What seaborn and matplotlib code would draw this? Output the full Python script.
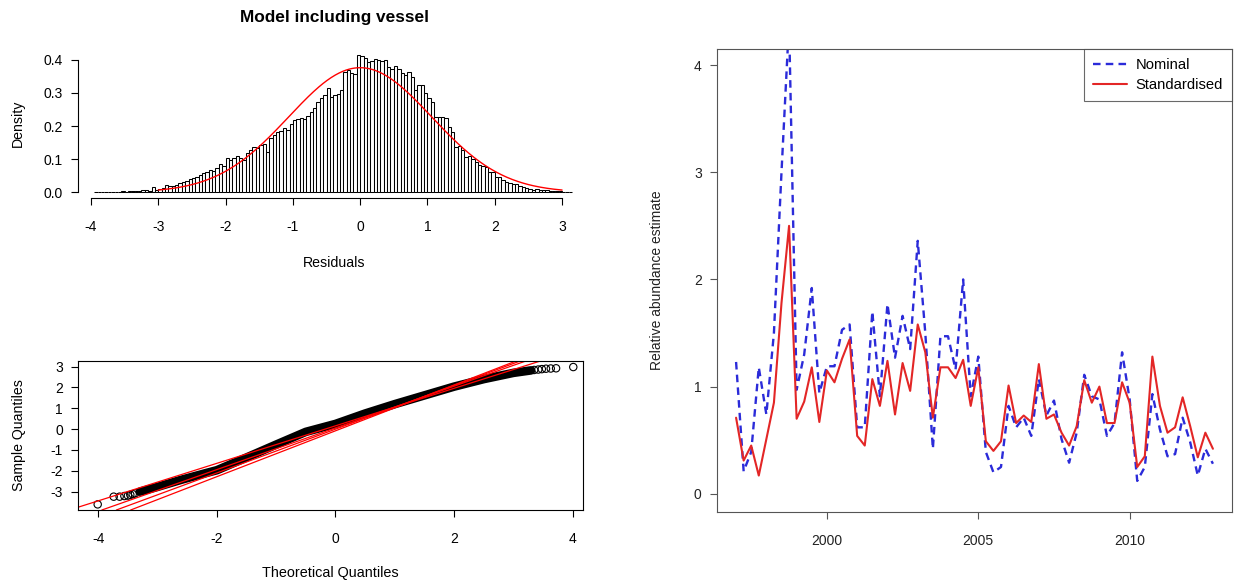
import numpy as np
import pandas as pd
import matplotlib
matplotlib.use("Agg")
import matplotlib.pyplot as plt
import seaborn as sns

# ----------------- Data -----------------
# residual histogram: density of each 0.05 wide bin, first bin starts at -3.95
hist_start = -3.95
hist_width = 0.05
hist_density = [
    # -3.95 .. -3.05
    0.001, 0.000, 0.001, 0.000, 0.001, 0.001, 0.000, 0.002, 0.003, 0.002,
    0.003, 0.004, 0.005, 0.004, 0.006, 0.008, 0.005, 0.016, 0.008,
    # -3.0 .. -2.05
    0.010, 0.014, 0.022, 0.018, 0.020, 0.021, 0.028, 0.032, 0.035, 0.039,
    0.042, 0.045, 0.052, 0.057, 0.062, 0.067, 0.063, 0.072, 0.085, 0.080,
    # -2.0 .. -1.05
    0.105, 0.099, 0.104, 0.110, 0.103, 0.099, 0.118, 0.128, 0.136, 0.135,
    0.143, 0.146, 0.122, 0.163, 0.172, 0.183, 0.186, 0.193, 0.188, 0.205,
    # -1.0 .. -0.05
    0.218, 0.222, 0.223, 0.220, 0.230, 0.243, 0.254, 0.274, 0.285, 0.294,
    0.314, 0.289, 0.293, 0.296, 0.309, 0.364, 0.369, 0.359, 0.358, 0.415,
    # 0.0 .. 0.95
    0.412, 0.405, 0.395, 0.398, 0.402, 0.400, 0.398, 0.400, 0.379, 0.371,
    0.381, 0.372, 0.359, 0.354, 0.362, 0.349, 0.309, 0.324, 0.324, 0.300,
    # 1.0 .. 1.95
    0.284, 0.274, 0.226, 0.228, 0.226, 0.223, 0.198, 0.183, 0.138, 0.140,
    0.128, 0.108, 0.110, 0.102, 0.092, 0.082, 0.080, 0.077, 0.062, 0.060,
    # 2.0 .. 2.95
    0.047, 0.045, 0.037, 0.032, 0.029, 0.025, 0.025, 0.019, 0.015, 0.012,
    0.009, 0.007, 0.009, 0.008, 0.006, 0.007, 0.004, 0.005, 0.003, 0.004,
    # 3.0 .. 3.1
    0.002, 0.001, 0.001,
]
norm_mean = 0.0
norm_sd = 1.06
norm_range = (-3.0, 3.0)

# QQ plot: dense body of the point cloud, isolated tail points, reference lines
qq_body_theo = [-3.3, -3.0, -2.6, -2.2, -2.0, -1.5, -1.0, -0.5, 0.0, 0.5,
                1.0, 1.5, 2.0, 2.5, 3.0, 3.3]
qq_body_sample = [-3.0, -2.77, -2.43, -2.12, -1.97, -1.36, -0.74, -0.13, 0.25, 0.75,
                  1.20, 1.62, 2.04, 2.40, 2.70, 2.82]
qq_tail_theo = [-4.01, -3.74, -3.64, -3.56, -3.50, -3.46, -3.42, -3.38,
                3.35, 3.42, 3.48, 3.55, 3.63, 3.72, 4.01]
qq_tail_sample = [-3.61, -3.24, -3.24, -3.21, -3.19, -3.15, -3.12, -3.08,
                  2.84, 2.86, 2.88, 2.90, 2.91, 2.92, 2.98]
qq_intercepts = [0.16, 0.06, 0.0, -0.08]
qq_slopes = [0.90, 1.00, 1.05, 1.10]

# abundance index, quarterly 1997 Q1 .. 2012 Q4
years = list(range(1997, 2013))
quarter_offsets = [0.0, 0.25, 0.5, 0.75]
nominal = [
    1.23, 0.21, 0.39, 1.18, 0.74, 1.50, 3.00, 4.40, 0.97, 1.30,
    1.92, 0.94, 1.19, 1.19, 1.53, 1.58, 0.62, 0.62, 1.70, 0.91,
    1.77, 1.27, 1.66, 1.35, 2.36, 1.50, 0.42, 1.47, 1.47, 1.16,
    2.00, 0.91, 1.28, 0.39, 0.20, 0.25, 0.82, 0.62, 0.71, 0.54,
    1.07, 0.73, 0.87, 0.51, 0.29, 0.57, 1.11, 0.91, 0.88, 0.54,
    0.66, 1.32, 0.88, 0.12, 0.25, 0.93, 0.60, 0.35, 0.37, 0.71,
    0.48, 0.17, 0.42, 0.28,
]
standardised = [
    0.71, 0.31, 0.45, 0.17, 0.51, 0.85, 1.78, 2.50, 0.70, 0.86,
    1.18, 0.67, 1.15, 1.04, 1.26, 1.44, 0.54, 0.45, 1.07, 0.82,
    1.24, 0.74, 1.22, 0.96, 1.58, 1.32, 0.71, 1.18, 1.18, 1.08,
    1.25, 0.82, 1.18, 0.49, 0.40, 0.49, 1.01, 0.66, 0.73, 0.67,
    1.21, 0.70, 0.74, 0.57, 0.45, 0.63, 1.06, 0.85, 1.00, 0.66,
    0.66, 1.04, 0.85, 0.25, 0.35, 1.28, 0.82, 0.57, 0.62, 0.90,
    0.63, 0.34, 0.57, 0.42,
]

# ----------------- Styling -----------------
sns.set_theme(style="ticks", rc={
    "axes.edgecolor": "black",
    "axes.linewidth": 0.8,
    "xtick.color": "black",
    "ytick.color": "black",
    "text.color": "black",
    "axes.labelcolor": "black",
    "xtick.major.size": 5,
    "ytick.major.size": 5,
    "xtick.major.width": 0.8,
    "ytick.major.width": 0.8,
})
plt.rcParams["font.family"] = ["Liberation Sans", "DejaVu Sans"]
plt.rcParams["axes.unicode_minus"] = False

W, H = 1239, 588
fig = plt.figure(figsize=(W / 100, H / 100), dpi=100)


def px_axes(left, top, right, bottom):
    return fig.add_axes([left / W, 1 - bottom / H, (right - left) / W, (bottom - top) / H])


# ----------------- Histogram of residuals -----------------
ax1 = px_axes(78, 49.4, 591, 197.8)
n_bins = len(hist_density)
edges = np.round(hist_start + hist_width * np.arange(n_bins + 1), 2)
mids = (edges[:-1] + edges[1:]) / 2
hist_df = pd.DataFrame({"Residuals": mids, "density": hist_density})
sns.histplot(data=hist_df, x="Residuals", weights="density", bins=edges.tolist(),
             stat="count", color="white", edgecolor="black", linewidth=0.75, alpha=1, ax=ax1)
grid = np.linspace(norm_range[0], norm_range[1], 300)
pdf = np.exp(-(grid - norm_mean) ** 2 / (2 * norm_sd ** 2)) / (norm_sd * np.sqrt(2 * np.pi))
sns.lineplot(x=grid, y=pdf, color="red", linewidth=1.0, ax=ax1)
ax1.set_xlim(-4.193, 3.43)
ax1.set_ylim(-0.0166, 0.4316)
ax1.set_xticks(range(-4, 4))
ax1.set_yticks([0.0, 0.1, 0.2, 0.3, 0.4])
ax1.set_yticklabels(["0.0", "0.1", "0.2", "0.3", "0.4"])
sns.despine(ax=ax1)
ax1.spines["left"].set_bounds(0, 0.4)
ax1.spines["bottom"].set_bounds(-4, 3)
ax1.tick_params(axis="x", labelsize=10, pad=11)
ax1.tick_params(axis="y", labelsize=10, pad=6)
ax1.set_title("Model including vessel", fontsize=12.4, fontweight="bold", pad=20)
ax1.set_ylabel("Density", fontsize=10.2, va="center")
ax1.yaxis.set_label_coords(-0.118, 0.5)
ax1.set_xlabel("Residuals", fontsize=10.2, va="center")
ax1.xaxis.set_label_coords(0.5, -0.44)

# ----------------- Normal QQ plot -----------------
ax2 = px_axes(78.3, 361, 583, 510)
sns.lineplot(x=qq_body_theo, y=qq_body_sample, color="black", linewidth=6.2,
             solid_capstyle="round", solid_joinstyle="round", sort=False, ax=ax2)
sns.scatterplot(x=qq_tail_theo, y=qq_tail_sample, marker="o", s=28,
                facecolor="none", edgecolor="black", linewidth=0.8, ax=ax2)
for a, b in zip(qq_intercepts, qq_slopes):
    ax2.axline((0, a), slope=b, color="red", linewidth=0.9)
ax2.set_xlim(-4.337, 4.174)
ax2.set_ylim(-3.88, 3.27)
ax2.set_xticks([-4, -2, 0, 2, 4])
ax2.set_yticks(range(-3, 4))
ax2.tick_params(axis="x", labelsize=10, pad=11)
ax2.tick_params(axis="y", labelsize=10, pad=6)
ax2.set_ylabel("Sample Quantiles", fontsize=10.2, va="center")
ax2.yaxis.set_label_coords(-0.118, 0.5)
ax2.set_xlabel("Theoretical Quantiles", fontsize=10.4, va="center")
ax2.xaxis.set_label_coords(0.5, -0.423)

# ----------------- Abundance index -----------------
ax3 = px_axes(717, 49, 1232, 512)
time = [y + q for y in years for q in quarter_offsets]
idx = pd.DataFrame({"time": time, "Nominal": nominal, "Standardised": standardised})
sns.lineplot(data=idx, x="time", y="Nominal", color="#2b2bd9", linewidth=1.7,
             linestyle=(0, (3.2, 2.2)), label="Nominal", ax=ax3)
sns.lineplot(data=idx, x="time", y="Standardised", color="#e32626", linewidth=1.5,
             label="Standardised", ax=ax3)
ax3.set_xlim(1996.37, 2013.38)
ax3.set_ylim(-0.17, 4.15)
ax3.set_xticks([2000, 2005, 2010])
ax3.set_yticks([0, 1, 2, 3, 4])
for sp in ax3.spines.values():
    sp.set_color("#555555")
ax3.tick_params(colors="#555555", labelcolor="#222222", labelsize=10)
ax3.tick_params(axis="x", pad=11)
ax3.tick_params(axis="y", pad=6)
ax3.set_xlabel("")
ax3.set_ylabel("Relative abundance estimate", fontsize=10, color="#222222", va="center")
ax3.yaxis.set_label_coords(-0.1165, 0.5)
leg = ax3.legend(loc="upper right", borderaxespad=0, frameon=True, fancybox=False,
                 fontsize=10.6, handlelength=2.3, handletextpad=0.6,
                 borderpad=0.6, labelspacing=0.45)
leg.get_frame().set_edgecolor("#444444")
leg.get_frame().set_linewidth(0.8)

fig.savefig("out.png", dpi=100)
plt.close(fig)
